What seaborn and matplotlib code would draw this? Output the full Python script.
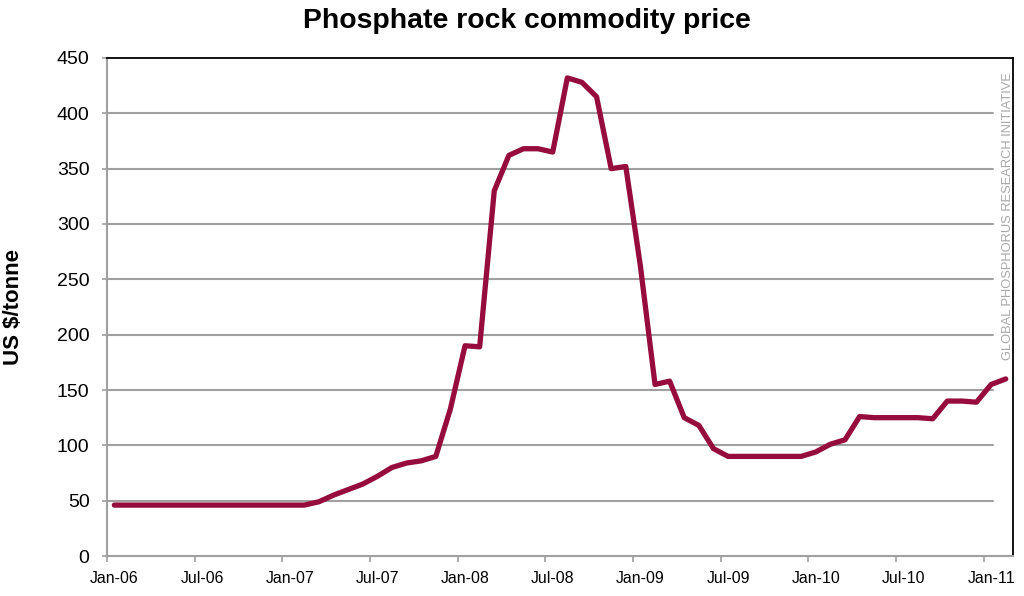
import numpy as np
import pandas as pd
import matplotlib
matplotlib.use("Agg")
import matplotlib.pyplot as plt
import seaborn as sns

# ── DATA (monthly, Jan-06 .. Feb-11) ─────────────────────────────────────────
months = pd.date_range("2006-01-01", "2011-02-01", freq="MS")
month_labels = [d.strftime("%b-%y") for d in months]

price = [
    46, 46, 46, 46, 46, 46, 46, 46, 46, 46, 46, 46,          # 2006
    46, 46, 49, 55, 60, 65, 72, 80, 84, 86, 90, 133,         # 2007
    190, 189, 330, 362, 368, 368, 365, 432, 428, 415, 350, 352,  # 2008
    262, 155, 158, 125, 118, 97, 90, 90, 90, 90, 90, 90,     # 2009
    94, 101, 105, 126, 125, 125, 125, 125, 124, 140, 140, 139,  # 2010
    155, 160,                                                # 2011
]

df = pd.DataFrame({"idx": np.arange(len(months)), "label": month_labels, "price": price})

# ── STYLE ────────────────────────────────────────────────────────────────────
sns.set_style("white")
plt.rcParams["font.family"] = ["Liberation Sans", "DejaVu Sans"]
plt.rcParams["text.color"] = "black"

line_color = "#960c3c"
grid_color = "#a0a0a0"

fig = plt.figure(figsize=(10.24, 5.96), dpi=100)
ax = fig.add_axes([0.1045, 0.0671, 0.8848, 0.8356])

# horizontal gridlines stop short of the right frame (watermark area)
for v in range(50, 450, 50):
    ax.axhline(v, xmin=0, xmax=0.978, color=grid_color, lw=1.5, zorder=1)

sns.lineplot(data=df, x="idx", y="price", ax=ax, color=line_color,
             lw=3.8, solid_joinstyle="round", solid_capstyle="round", zorder=3)

# ── AXES ─────────────────────────────────────────────────────────────────────
n = len(months)
ax.set_xlim(-0.5, n - 0.5)
ax.set_ylim(0, 450)
ax.set_yticks(range(0, 451, 50))
ax.tick_params(axis="y", labelsize=14, length=3.6, width=1.2, color=grid_color,
               left=True, pad=9, labelcolor="black")

# tick marks at category boundaries, labels at category centres
ax.set_xticks(np.arange(-0.5, n, 6))
ax.set_xticklabels([])
ax.set_xticks(np.arange(0, n, 6), minor=True)
ax.set_xticklabels(month_labels[::6], minor=True, fontsize=11.4)
ax.tick_params(axis="x", which="major", length=4, width=1.2, color=grid_color, bottom=True)
ax.tick_params(axis="x", which="minor", length=0, pad=11, bottom=True, labelcolor="black")

ax.set_xlabel("")
ax.set_ylabel("US $/tonne", fontsize=16, fontweight="bold", color="black")
ax.yaxis.set_label_coords(-0.092, 0.5)

for side in ["left", "bottom"]:
    ax.spines[side].set_color(grid_color)
    ax.spines[side].set_linewidth(1.5)
for side in ["top", "right"]:
    ax.spines[side].set_color("black")
    ax.spines[side].set_linewidth(1.3)

fig.suptitle("Phosphate rock commodity price", fontsize=20.4, fontweight="bold",
             x=0.515, y=0.987, color="black")

fig.text(0.984, 0.638, "GLOBAL PHOSPHORUS RESEARCH INITIATIVE", rotation=90,
         fontsize=9.3, color="#a8a8a8", ha="center", va="center")

fig.savefig("out.png", dpi=100)
